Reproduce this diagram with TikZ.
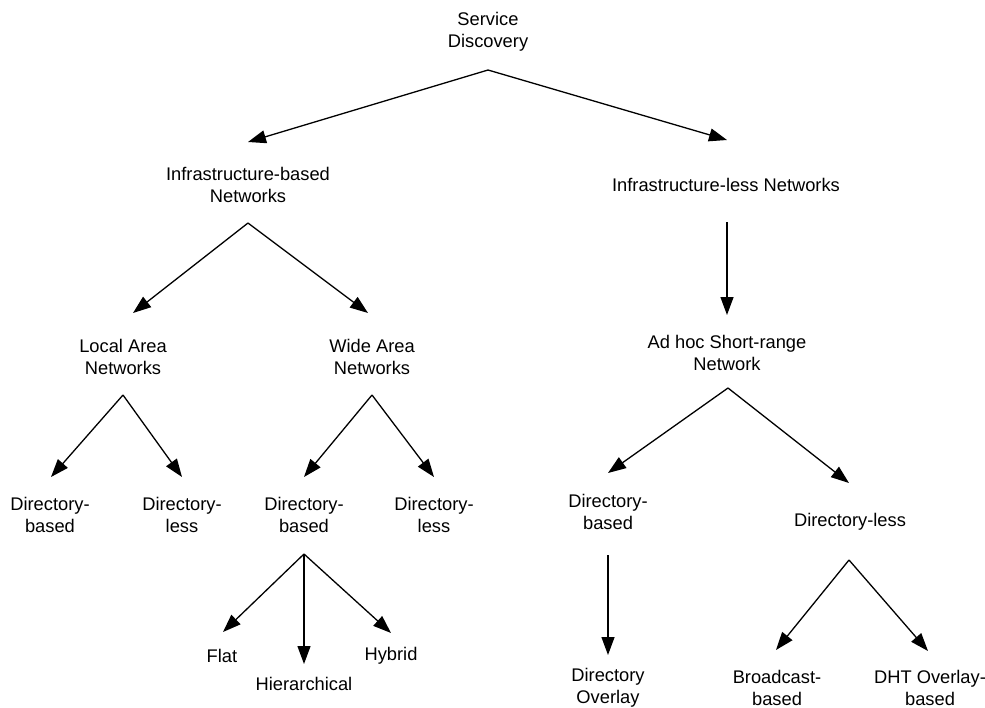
\documentclass[tikz,border=0pt]{standalone}
\usepackage{fontspec}
\setmainfont{Liberation Sans}
\usetikzlibrary{arrows.meta}
\tikzset{
  lbl/.style={align=center, inner sep=0pt, font=\fontsize{18.3}{22}\selectfont},
  arr/.style={line width=1.3pt, -{Triangle[length=18pt,width=13pt]}}
}
\begin{document}
\begin{tikzpicture}[x=1pt,y=-1pt]
\useasboundingbox (0,0) rectangle (985,707);
% nodes
\node[lbl] (sd) at (488,32) {Service\\Discovery};
\node[lbl] (ib) at (248,185) {Infrastructure-based\\Networks};
\node[lbl] (il) at (726,185) {Infrastructure-less Networks};
\node[lbl] (lan) at (123,357) {Local Area\\Networks};
\node[lbl] (wan) at (372,357) {Wide Area\\Networks};
\node[lbl] (adhoc) at (727,353) {Ad hoc Short-range\\Network};
\node[lbl] (ldb) at (50,515) {Directory-\\based};
\node[lbl] (ldl) at (182,515) {Directory-\\less};
\node[lbl] (wdb) at (304,515) {Directory-\\based};
\node[lbl] (wdl) at (434,515) {Directory-\\less};
\node[lbl] (adb) at (608,512) {Directory-\\based};
\node[lbl] (adl) at (850,522) {Directory-less};
\node[lbl] (flat) at (222,656) {Flat};
\node[lbl] (hier) at (304,684) {Hierarchical};
\node[lbl] (hyb) at (391,656) {Hybrid};
\node[lbl] (dovl) at (608,688) {Directory\\Overlay};
\node[lbl] (bc) at (777,688) {Broadcast-\\based};
\node[lbl] (dht) at (930,688) {DHT Overlay-\\based};
% fork points and tips
\coordinate (sdF) at (488,70);
\coordinate (ibT) at (248,142);
\coordinate (ilT) at (727,140);
\coordinate (ibF) at (248,223);
\coordinate (lanT) at (133,313);
\coordinate (wanT) at (368,313);
\coordinate (ilF) at (727,222);
\coordinate (adhocT) at (727,315);
\coordinate (lanF) at (123,395);
\coordinate (ldbT) at (51,477);
\coordinate (ldlT) at (182,477);
\coordinate (wanF) at (372,395);
\coordinate (wdbT) at (304,477);
\coordinate (wdlT) at (434,477);
\coordinate (adhocF) at (728,388);
\coordinate (adbT) at (608,473);
\coordinate (adlT) at (849,483);
\coordinate (wdbF) at (304,554);
\coordinate (flatT) at (223,632);
\coordinate (hierT) at (304,664);
\coordinate (hybT) at (391,633);
\coordinate (adbF) at (608,555);
\coordinate (dovlT) at (608,655);
\coordinate (adlF) at (849,560);
\coordinate (bcT) at (776,650);
\coordinate (dhtT) at (928,651);
% connectors
\draw[arr] (sdF) -- (ibT);
\draw[arr] (sdF) -- (ilT);
\draw[arr] (ibF) -- (lanT);
\draw[arr] (ibF) -- (wanT);
\draw[arr] (ilF) -- (adhocT);
\draw[arr] (lanF) -- (ldbT);
\draw[arr] (lanF) -- (ldlT);
\draw[arr] (wanF) -- (wdbT);
\draw[arr] (wanF) -- (wdlT);
\draw[arr] (adhocF) -- (adbT);
\draw[arr] (adhocF) -- (adlT);
\draw[arr] (wdbF) -- (flatT);
\draw[arr] (wdbF) -- (hierT);
\draw[arr] (wdbF) -- (hybT);
\draw[arr] (adbF) -- (dovlT);
\draw[arr] (adlF) -- (bcT);
\draw[arr] (adlF) -- (dhtT);
\end{tikzpicture}
\end{document}
